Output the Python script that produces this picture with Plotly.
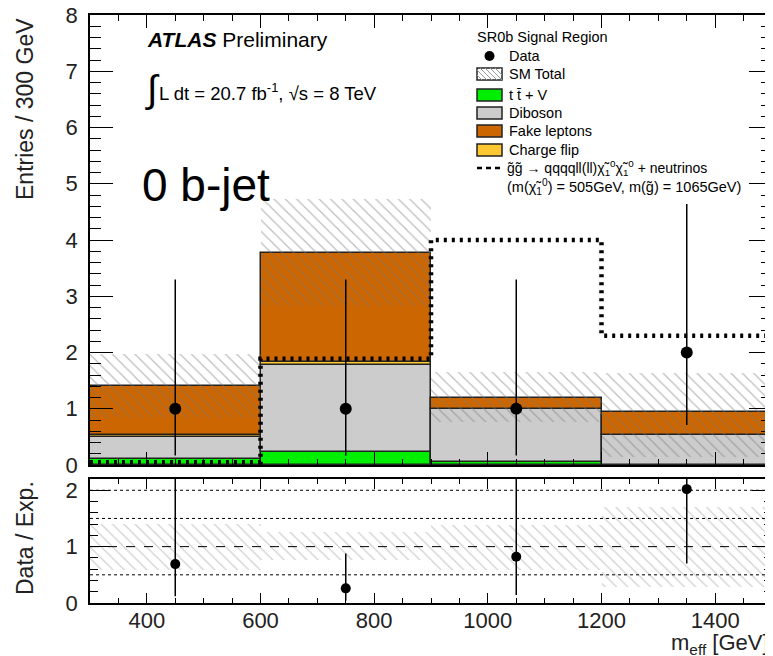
import plotly.graph_objects as go

# ---------------- data ----------------
bin_edges = [300, 600, 900, 1200, 1500]
bin_centers = [450, 750, 1050, 1350]
ttv = [0.11, 0.23, 0.06, 0.0]
diboson = [0.38, 1.54, 0.94, 0.54]
charge_flip = [0.05, 0.06, 0.0, 0.0]
fake = [0.87, 1.94, 0.20, 0.41]
sm_up = [1.98, 4.73, 1.65, 1.64]
sm_down = [0.84, 2.82, 0.76, 0.15]
signal = [0.05, 1.89, 4.0, 2.30]
data = [1, 1, 1, 2]
data_err_lo = [0.83, 0.83, 0.83, 1.29]
data_err_hi = [2.30, 2.30, 2.30, 2.64]
ratio_vals = [0.69, 0.26, 0.82, 2.02]
ratio_err_lo = [0.57, 0.22, 0.68, 1.32]
ratio_err_hi = [1.70, 0.62, 1.50, 0.80]
ratio_band_up = [1.41, 1.26, 1.38, 1.70]
ratio_band_down = [0.58, 0.76, 0.58, 0.29]
ratio_ref_dotted = [0.5, 1.5, 2.0]
ratio_ref_dashed = [1.0]

# page is rendered with the browser's default 8px body margin -> compensate
OFF = 8
PAGE_W, PAGE_H = 773, 656
W, H = PAGE_W - OFF, PAGE_H - OFF
# plot area in page pixels: x 90..772, y 15..603
ML, MR, MT = 90 - OFF, PAGE_W - 772, 15 - OFF
MB = H - (603 - OFF)
PW, PH = W - ML - MR, H - MT - MB


def px(x):  # page pixel -> paper x
    return (x - OFF - ML) / PW


def py(y):  # page pixel -> paper y
    return (MT + PH - (y - OFF)) / PH


FONT = "Liberation Sans, Arial, sans-serif"
C_TTV = "#00ee00"
C_DIB = "#cccccc"
C_CF = "#ffc832"
C_FAKE = "#cc6600"

fig = go.Figure()

bin_width = [bin_edges[i + 1] - bin_edges[i] for i in range(len(bin_centers))]

# stacked backgrounds
base = [0.0] * 4
for vals, col in [(ttv, C_TTV), (diboson, C_DIB), (charge_flip, C_CF), (fake, C_FAKE)]:
    fig.add_trace(go.Bar(x=bin_centers, y=vals, base=list(base), width=bin_width,
                         marker=dict(color=col, line=dict(color="#222222", width=1.5)),
                         xaxis="x", yaxis="y", showlegend=False, hoverinfo="skip"))
    base = [b + v for b, v in zip(base, vals)]

# SM total uncertainty hatch
fig.add_trace(go.Bar(x=bin_centers, y=[u - d for u, d in zip(sm_up, sm_down)], base=sm_down,
                     width=bin_width,
                     marker=dict(color="rgba(0,0,0,0)", line=dict(width=0),
                                 pattern=dict(shape="\\", fgcolor="#7a7a7a", size=8, solidity=0.15)),
                     xaxis="x", yaxis="y", showlegend=False, hoverinfo="skip"))

# signal
fig.add_trace(go.Scatter(x=bin_edges, y=signal + [signal[-1]], mode="lines", line_shape="hv",
                         line=dict(color="black", width=4.5, dash="3px,5px"),
                         xaxis="x", yaxis="y", showlegend=False, hoverinfo="skip"))

# data
fig.add_trace(go.Scatter(x=bin_centers, y=data, mode="markers",
                         marker=dict(color="black", size=12),
                         error_y=dict(type="data", array=data_err_hi, arrayminus=data_err_lo,
                                      color="black", thickness=1.5, width=0),
                         xaxis="x", yaxis="y", showlegend=False, hoverinfo="skip"))

# ratio band
fig.add_trace(go.Bar(x=bin_centers, y=[u - d for u, d in zip(ratio_band_up, ratio_band_down)],
                     base=ratio_band_down, width=bin_width,
                     marker=dict(color="rgba(0,0,0,0)", line=dict(width=0),
                                 pattern=dict(shape="\\", fgcolor="#a0a0a0", size=8, solidity=0.15)),
                     xaxis="x2", yaxis="y2", showlegend=False, hoverinfo="skip"))

fig.add_trace(go.Scatter(x=bin_centers, y=ratio_vals, mode="markers",
                         marker=dict(color="black", size=10),
                         error_y=dict(type="data", array=ratio_err_hi, arrayminus=ratio_err_lo,
                                      color="black", thickness=1.5, width=0),
                         xaxis="x2", yaxis="y2", showlegend=False, hoverinfo="skip"))

shapes = []
for v in ratio_ref_dotted:
    shapes.append(dict(type="line", xref="x2 domain", yref="y2", x0=0, x1=1, y0=v, y1=v,
                       line=dict(color="black", width=1, dash="dot"), layer="above"))
for v in ratio_ref_dashed:
    shapes.append(dict(type="line", xref="x2 domain", yref="y2", x0=0, x1=1, y0=v, y1=v,
                       line=dict(color="black", width=1, dash="dash"), layer="above"))

annotations = []

# ---------------- legend (manual) ----------------
LX0, LX1 = 477, 502
BOX_H = 12
annotations.append(dict(x=px(475), y=py(37), xref="paper", yref="paper", text="SR0b Signal Region",
                        showarrow=False, xanchor="left", yanchor="middle",
                        font=dict(family=FONT, size=14.5, color="black")))
rows = [
    ("Data", 56, "dot", None),
    ("SM Total", 74, "hatch", None),
    ("t t̄ + V", 95, "box", C_TTV),
    ("Diboson", 113, "box", C_DIB),
    ("Fake leptons", 131, "box", C_FAKE),
    ("Charge flip", 150, "box", C_CF),
]
for label, yc, kind, col in rows:
    if kind == "dot":
        shapes.append(dict(type="circle", xref="paper", yref="paper",
                           x0=px(489.5 - 5), x1=px(489.5 + 5), y0=py(yc + 5), y1=py(yc - 5),
                           fillcolor="black", line=dict(color="black", width=0)))
    elif kind == "box":
        shapes.append(dict(type="rect", xref="paper", yref="paper",
                           x0=px(LX0), x1=px(LX1), y0=py(yc + BOX_H / 2), y1=py(yc - BOX_H / 2),
                           fillcolor=col, line=dict(color="#222222", width=1.5)))
    else:
        shapes.append(dict(type="rect", xref="paper", yref="paper",
                           x0=px(LX0), x1=px(LX1), y0=py(yc + BOX_H / 2), y1=py(yc - BOX_H / 2),
                           fillcolor="white", line=dict(color="#222222", width=1.5)))
        top, bot = yc - BOX_H / 2, yc + BOX_H / 2
        hgt = bot - top
        k = LX0 - hgt
        while k < LX1:
            xa, ya = k, top
            xb, yb = k + hgt, bot
            if xa < LX0:
                ya = top + (LX0 - xa)
                xa = LX0
            if xb > LX1:
                yb = bot - (xb - LX1)
                xb = LX1
            if xb > xa:
                shapes.append(dict(type="line", xref="paper", yref="paper",
                                   x0=px(xa), y0=py(ya), x1=px(xb), y1=py(yb),
                                   line=dict(color="#9a9a9a", width=1)))
            k += 5
    annotations.append(dict(x=px(507), y=py(yc), xref="paper", yref="paper", text=label,
                            showarrow=False, xanchor="left", yanchor="middle",
                            font=dict(family=FONT, size=14.5, color="black")))

# signal legend entry
shapes.append(dict(type="line", xref="paper", yref="paper", x0=px(LX0), x1=px(LX1),
                   y0=py(168), y1=py(168), line=dict(color="black", width=2.5, dash="5px,4px")))
annotations.append(dict(x=px(505), y=py(168), xref="paper", yref="paper",
                        text="g̃g̃ → qqqqll(ll)χ̃<sub>1</sub><sup>0</sup>χ̃<sub>1</sub><sup>0</sup> + neutrinos",
                        showarrow=False, xanchor="left", yanchor="middle",
                        font=dict(family=FONT, size=14, color="black")))
annotations.append(dict(x=px(505), y=py(187), xref="paper", yref="paper",
                        text="(m(χ̃<sub>1</sub><sup>0</sup>) = 505GeV, m(g̃) = 1065GeV)",
                        showarrow=False, xanchor="left", yanchor="middle",
                        font=dict(family=FONT, size=14.5, color="black")))

# ATLAS labels
annotations.append(dict(x=px(145), y=py(40), xref="paper", yref="paper",
                        text="<b><i>ATLAS</i></b> Preliminary", showarrow=False,
                        xanchor="left", yanchor="middle", font=dict(family=FONT, size=21, color="black")))
annotations.append(dict(x=px(143), y=py(90), xref="paper", yref="paper", text="∫",
                        showarrow=False, xanchor="left", yanchor="middle",
                        font=dict(family=FONT, size=38, color="black")))
annotations.append(dict(x=px(157), y=py(92), xref="paper", yref="paper",
                        text="L dt = 20.7 fb<sup>-1</sup>, √s = 8 TeV", showarrow=False,
                        xanchor="left", yanchor="middle", font=dict(family=FONT, size=18.5, color="black")))
annotations.append(dict(x=px(140), y=py(185), xref="paper", yref="paper", text="0 b-jet",
                        showarrow=False, xanchor="left", yanchor="middle",
                        font=dict(family=FONT, size=46, color="black")))

# axis titles
annotations.append(dict(x=px(25), y=py(109), xref="paper", yref="paper", text="Entries / 300 GeV",
                        textangle=-90, showarrow=False, xanchor="center", yanchor="middle",
                        font=dict(family=FONT, size=23, color="#222222")))
annotations.append(dict(x=px(25), y=py(538), xref="paper", yref="paper", text="Data / Exp.",
                        textangle=-90, showarrow=False, xanchor="center", yanchor="middle",
                        font=dict(family=FONT, size=23, color="#222222")))
annotations.append(dict(x=px(771), y=py(644), xref="paper", yref="paper",
                        text="m<sub>eff</sub> [GeV]", showarrow=False, xanchor="right", yanchor="middle",
                        font=dict(family=FONT, size=22, color="#222222")))

axis_common = dict(showline=True, linecolor="black", linewidth=1.5, mirror="allticks",
                   ticks="inside", tickcolor="black", tickwidth=1, showgrid=False, zeroline=False,
                   automargin=False, ticklabeloverflow="allow",
                   tickfont=dict(family=FONT, size=22, color="#222222"))

main_bottom = py(465)
ratio_top = py(479)

fig.update_layout(
    width=W, height=H,
    margin=dict(l=ML, r=MR, t=MT, b=MB, pad=0, autoexpand=False),
    paper_bgcolor="white", plot_bgcolor="white",
    barmode="overlay", bargap=0,
    showlegend=False,
    xaxis=dict(domain=[0, 1], anchor="y", range=[300, 1500], dtick=200, tick0=0, ticklen=13,
               minor=dict(dtick=50, ticklen=6, ticks="inside", tickcolor="black"),
               showticklabels=False, matches="x2", **axis_common),
    yaxis=dict(domain=[main_bottom, 1], anchor="x", range=[0, 8], dtick=1, ticklen=23,
               minor=dict(dtick=0.2, ticklen=11, ticks="inside", tickcolor="black"),
               ticklabelstandoff=6, **axis_common),
    xaxis2=dict(domain=[0, 1], anchor="y2", range=[300, 1500], dtick=200, tick0=0, ticklen=10,
                minor=dict(dtick=50, ticklen=5, ticks="inside", tickcolor="black"),
                ticklabelstandoff=-3, **axis_common),
    yaxis2=dict(domain=[0, ratio_top], anchor="x2", range=[0, 2.2], tickvals=[0, 1, 2], ticklen=20,
                minor=dict(tickvals=[0.2, 0.4, 0.6, 0.8, 1.2, 1.4, 1.6, 1.8, 2.0], ticklen=8,
                           ticks="inside", tickcolor="black"),
                ticklabelstandoff=6, **axis_common),
    shapes=shapes,
    annotations=annotations,
)

fig.write_html("out.html")
